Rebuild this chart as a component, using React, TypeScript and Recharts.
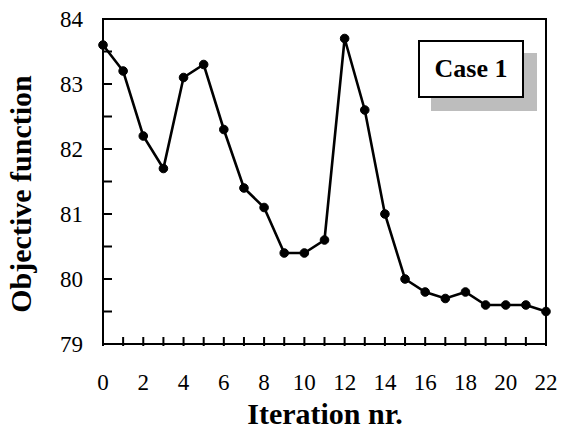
import { Line, LineChart, XAxis, YAxis } from "recharts";

const iterations = [0, 1, 2, 3, 4, 5, 6, 7, 8, 9, 10, 11, 12, 13, 14, 15, 16, 17, 18, 19, 20, 21, 22];
const objective = [
  83.6, 83.2, 82.2, 81.7, 83.1, 83.3, 82.3, 81.4, 81.1, 80.4, 80.4, 80.6, 83.7, 82.6, 81.0, 80.0, 79.8, 79.7,
  79.8, 79.6, 79.6, 79.6, 79.5,
];
const xTicks = iterations;
const yTicks = [79, 79.5, 80, 80.5, 81, 81.5, 82, 82.5, 83, 83.5, 84];

const data = iterations.map((it, i) => ({ it, value: objective[i] }));

const FONT = "'Liberation Serif', 'Times New Roman', serif";
const TICK = 9;

// x tick: y arrives 10px below the axis line (tickSize 10), mark drawn upward into the plot
function XTick({ x, y, payload }: any) {
  const v = payload.value;
  const axisY = y - 10;
  return (
    <g>
      <rect x={x - 1} y={axisY - TICK} width={2} height={TICK} fill="#000" />
      {v % 2 === 0 && (
        <text x={x} y={axisY + 44} textAnchor="middle" fontFamily={FONT} fontSize={23} fill="#000">
          {v}
        </text>
      )}
    </g>
  );
}

// y tick: x arrives 20px left of the axis line (tickSize 0, tickMargin 20)
function YTick({ x, y, payload }: any) {
  const v = payload.value;
  const axisX = x + 20;
  return (
    <g>
      <rect x={axisX} y={y - 1} width={TICK} height={2} fill="#000" />
      {Number.isInteger(v) && (
        <text x={x} y={y + 8} textAnchor="end" fontFamily={FONT} fontSize={23} fill="#000">
          {v}
        </text>
      )}
    </g>
  );
}

const titleStyle = {
  position: "absolute" as const,
  fontFamily: FONT,
  fontWeight: "bold" as const,
  fontSize: 30,
  lineHeight: "30px",
  whiteSpace: "nowrap" as const,
  color: "#000",
};

export default function App() {
  return (
    <div style={{ position: "absolute", left: 0, top: 0, width: 562, height: 433, background: "#fff" }}>
      <LineChart width={562} height={433} data={data} margin={{ top: 19, right: 16, left: 0, bottom: 0 }}>
        <XAxis
          dataKey="it"
          type="number"
          domain={[0, 22]}
          ticks={xTicks}
          interval={0}
          tickSize={10}
          tick={<XTick />}
          tickLine={false}
          height={89}
          axisLine={{ stroke: "#000", strokeWidth: 2 }}
        />
        <YAxis
          type="number"
          domain={[79, 84]}
          ticks={yTicks}
          interval={0}
          tickSize={0}
          tickMargin={20}
          tick={<YTick />}
          tickLine={false}
          width={103}
          axisLine={{ stroke: "#000", strokeWidth: 2 }}
        />
        <Line
          dataKey="value"
          stroke="#000"
          strokeWidth={2.6}
          dot={{ r: 4.3, fill: "#000", stroke: "#000", strokeWidth: 1 }}
          activeDot={false}
          isAnimationActive={false}
        />
      </LineChart>
      {/* top and right edges of the plot frame */}
      <div
        style={{
          position: "absolute",
          left: 102,
          top: 18,
          width: 445,
          height: 327,
          boxSizing: "border-box",
          borderTop: "2px solid #000",
          borderRight: "2px solid #000",
          pointerEvents: "none",
        }}
      />
      <div style={{ ...titleStyle, left: 0, width: 650, top: 399, textAlign: "center" }}>Iteration nr.</div>
      <div
        style={{
          ...titleStyle,
          left: 6,
          top: 179,
          width: 30,
          height: 30,
          display: "flex",
          alignItems: "center",
          justifyContent: "center",
          transform: "rotate(-90deg)",
        }}
      >
        Objective function
      </div>
      <div
        style={{
          position: "absolute",
          left: 418,
          top: 40,
          width: 102,
          height: 54,
          border: "2px solid #000",
          background: "#fff",
          boxShadow: "13px 13px 0 #bdbdbd",
          display: "flex",
          alignItems: "center",
          justifyContent: "center",
          fontFamily: FONT,
          fontWeight: "bold",
          fontSize: 26,
        }}
      >
        Case 1
      </div>
    </div>
  );
}
